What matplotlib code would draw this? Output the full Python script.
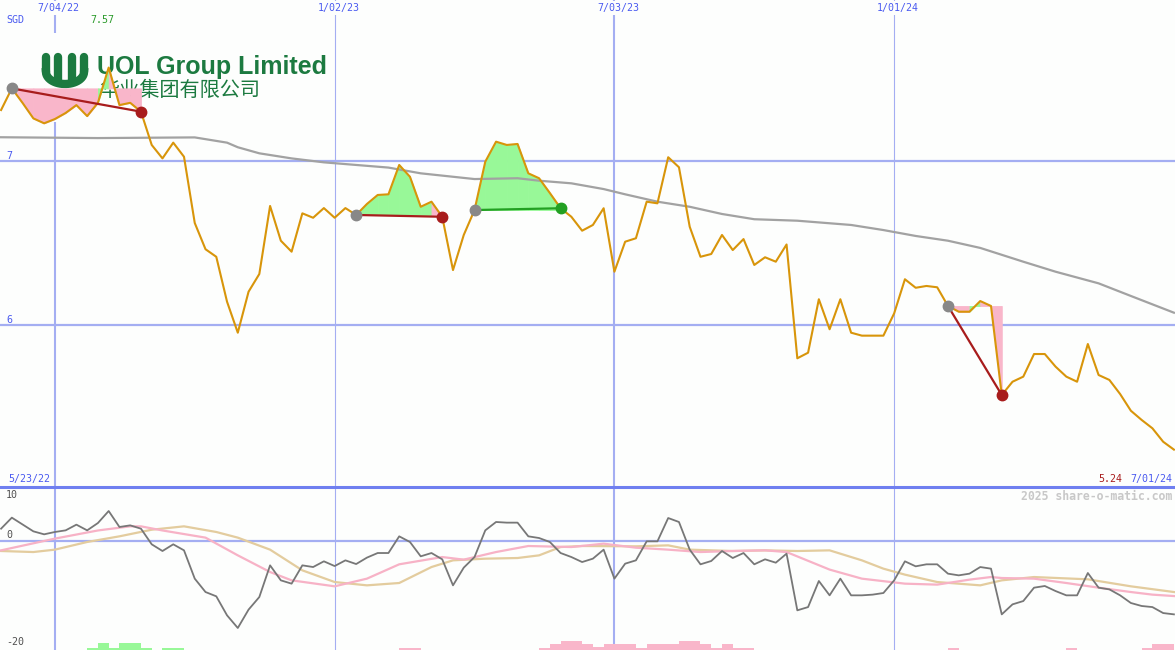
import matplotlib
matplotlib.use('Agg')
import matplotlib.pyplot as plt
import matplotlib.transforms as mtransforms
from matplotlib.lines import Line2D
from matplotlib.patches import Rectangle
import numpy as np
import pandas as pd

# weekly closes, SGD (first week 30 May 2022)
start_date = '2022-05-30'
price = [7.311, 7.443, 7.354, 7.260, 7.230, 7.256, 7.293, 7.341, 7.274, 7.355,
         7.570, 7.341, 7.355, 7.301, 7.098, 7.016, 7.112, 7.026, 6.622, 6.462,
         6.416, 6.142, 5.953, 6.203, 6.311, 6.726, 6.514, 6.447, 6.681, 6.654,
         6.713, 6.654, 6.713, 6.671, 6.738, 6.793, 6.797, 6.976, 6.904, 6.721,
         6.752, 6.660, 6.335, 6.549, 6.701, 6.996, 7.118, 7.098, 7.104, 6.925,
         6.895, 6.805, 6.712, 6.660, 6.575, 6.610, 6.712, 6.325, 6.508, 6.529,
         6.752, 6.742, 7.023, 6.962, 6.599, 6.416, 6.433, 6.549, 6.457, 6.524,
         6.366, 6.413, 6.386, 6.491, 5.797, 5.831, 6.157, 5.974, 6.157, 5.953,
         5.935, 5.935, 5.935, 6.071, 6.279, 6.227, 6.238, 6.230, 6.116, 6.081,
         6.081, 6.146, 6.116, 5.573, 5.654, 5.685, 5.823, 5.823, 5.746, 5.685,
         5.654, 5.884, 5.695, 5.665, 5.579, 5.477, 5.421, 5.370, 5.288, 5.240]

ma_weeks = [0, 9, 18, 21, 22, 24, 27, 30, 33, 36, 39, 42, 44, 48, 50, 53, 56, 58,
            61, 64, 67, 70, 74, 79, 82, 85, 88, 91, 95, 98, 102, 105, 109]
ma_vals = [7.145, 7.140, 7.144, 7.112, 7.084, 7.047, 7.016, 6.992, 6.976, 6.960,
           6.925, 6.904, 6.890, 6.895, 6.880, 6.864, 6.829, 6.797, 6.752, 6.721,
           6.677, 6.645, 6.636, 6.610, 6.579, 6.543, 6.514, 6.470, 6.386, 6.325,
           6.254, 6.177, 6.075]

# (start week, end week) of the marked moves
events = [(1, 13), (33, 41), (44, 52), (88, 93)]

momentum = [2.33, 4.36, 3.1, 1.84, 1.29, 1.72, 2.02, 3.07, 2.02, 3.37,
            5.58, 2.64, 2.94, 2.33, -0.55, -1.78, -0.55, -1.66, -6.87, -9.33,
            -10.12, -13.62, -15.95, -12.57, -10.25, -4.42, -7.18, -7.79, -4.42, -4.73,
            -3.68, -4.55, -3.5, -4.18, -3.0, -2.15, -2.15, 0.92, -0.12, -2.76,
            -2.15, -3.31, -8.1, -4.84, -2.89, 2.02, 3.56, 3.44, 3.44, 0.92,
            0.61, -0.12, -2.15, -2.89, -3.81, -3.19, -1.53, -6.87, -4.11, -3.5,
            0.0, 0.0, 4.29, 3.56, -1.53, -4.23, -3.62, -1.78, -3.07, -2.15,
            -4.23, -3.31, -3.93, -2.27, -12.7, -12.1, -7.3, -9.94, -6.87, -9.94,
            -9.94, -9.81, -9.51, -7.18, -3.68, -4.6, -4.23, -4.23, -5.95, -6.26,
            -5.95, -4.73, -5.03, -13.44, -11.6, -10.99, -8.53, -8.22, -9.15, -9.94,
            -9.94, -5.83, -8.53, -8.84, -9.94, -11.35, -11.9, -12.1, -13.2, -13.44]

pink_weeks = [0, 5, 9, 12, 13, 15, 19, 22, 25, 27, 31, 34, 37, 41, 43, 46, 49, 53, 56,
              59, 62, 65, 68, 71, 73, 77, 80, 84, 87, 90, 92, 93, 96, 99, 102, 105, 107, 109]
pink_vals = [-1.66, 0.5, 2.0, 2.76, 2.76, 2.0, 0.68, -2.58, -5.65, -7.18, -8.28, -6.87,
             -4.23, -2.89, -3.37, -1.97, -0.86, -1.05, -0.43, -1.17, -1.53, -1.97, -1.78,
             -1.66, -1.97, -5.2, -6.87, -7.79, -7.97, -7.05, -6.57, -6.75, -6.87, -7.67,
             -8.53, -9.33, -9.81, -10.07]

tan_weeks = [0, 3, 5, 8, 11, 14, 17, 20, 22, 25, 28, 31, 34, 37, 40, 42, 45, 48, 50, 52,
             54, 59, 62, 64, 68, 71, 74, 77, 80, 82, 84, 87, 91, 93, 96, 101, 105, 109]
tan_vals = [-1.78, -1.97, -1.53, -0.12, 0.92, 2.14, 2.76, 1.72, 0.68, -1.53, -5.34, -7.49,
            -8.1, -7.67, -4.73, -3.5, -3.19, -3.07, -2.58, -1.05, -0.86, -0.92, -0.74,
            -1.53, -1.78, -1.66, -1.78, -1.66, -3.5, -5.03, -6.13, -7.49, -8.1, -7.18,
            -6.57, -6.99, -8.28, -9.33]

green_bar_weeks = [8, 9, 10, 11, 12, 13, 15, 16]
green_bar_vals = [0.45, 1.2, 0.45, 1.2, 1.2, 0.45, 0.45, 0.45]
pink_bar_weeks = [37, 38, 50, 51, 52, 53, 54, 55, 56, 57, 58, 59, 60, 61, 62, 63, 64,
                  65, 66, 67, 68, 69, 88, 99, 106, 107, 108]
pink_bar_vals = [0.45, 0.45, 0.45, 1.1, 1.65, 1.65, 1.1, 0.5, 1.1, 1.1, 1.1, 0.45, 1.1,
                 1.1, 1.1, 1.65, 1.65, 1.1, 0.45, 1.1, 0.45, 0.45, 0.45, 0.45, 0.45, 1.1, 1.1]

grid_dates = ['2022-07-04', '2023-01-02', '2023-07-03', '2024-01-01']
grid_labels = ['7/04/22', '1/02/23', '7/03/23', '1/01/24']
price_ticks = [7, 6]
lower_ticks = [10, 0, -20]

W, H = 1175, 650
BG = '#fdfefd'
GRID = '#a4aef2'
DIVIDER = '#6f7ff0'
BLUE = '#4a5af0'
LOGO = '#1c7a40'
PRICE_C = '#d8950a'
PINK_FILL = '#f9b6ca'
GREEN_FILL = '#98f898'
DOWN = '#a81c1c'
UP = '#22a022'
MONO = 'DejaVu Sans Mono'


def fx(x):
    return x / W


def fy(y):
    return 1 - y / H


weeks = np.arange(len(price))
start = pd.Timestamp(start_date)
grid_weeks = [(pd.Timestamp(d) - start).days / 7 for d in grid_dates]

fig = plt.figure(figsize=(W / 100, H / 100), dpi=100, facecolor=BG)
ax_p = fig.add_axes([0, 163 / H, 1, 487 / H])
ax_m = fig.add_axes([0, 0, 1, 163 / H])
for ax in (ax_p, ax_m):
    ax.axis('off')
    for w, d in zip(grid_weeks, grid_dates):
        ax.axvline(w, color=GRID, lw=1.5 if d[5:7] == '07' else 0.8, zorder=0.5)

# price panel
for t in price_ticks:
    ax_p.axhline(t, color=GRID, lw=1.6, zorder=0.5)

# logo sits over the grid but under the data
ax_p.add_patch(Rectangle((fx(30), fy(122)), (333 - 30) / W, (122 - 33) / H,
                         transform=fig.transFigure, facecolor=BG, edgecolor='none', zorder=1))
icon = [([46, 46], [57, 72]), ([84, 84], [57, 72]), ([58, 58], [57, 80]), ([72, 72], [57, 80])]
for xs, ys in icon:
    ax_p.add_line(Line2D([fx(v) for v in xs], [fy(v) for v in ys], transform=fig.transFigure,
                         color=LOGO, lw=6, solid_capstyle='round', zorder=1.2))
theta = np.linspace(np.pi, 2 * np.pi, 30)
ax_p.add_line(Line2D(fx(65 + 19 * np.cos(theta)), fy(72 - 12 * np.sin(theta)),
                     transform=fig.transFigure, color=LOGO, lw=6, zorder=1.2))
ax_p.text(fx(97), fy(67), 'UOL Group Limited', transform=fig.transFigure, color=LOGO,
          fontsize=18, fontweight='bold', family='Liberation Sans', va='center', zorder=1.3)
ax_p.text(fx(99), fy(90), '华业集团有限公司', transform=fig.transFigure, color=LOGO,
          fontsize=14.5, family=['Noto Sans CJK SC', 'DejaVu Sans'], va='center', zorder=1.3)

for s, e in events:
    lvl = price[s]
    for k in range(s, e):
        c = GREEN_FILL if price[k + 1] > lvl else PINK_FILL
        ax_p.fill_between([k, k + 1], lvl, [price[k], price[k + 1]], facecolor=c,
                          edgecolor=c, lw=0.6, zorder=2)

ax_p.plot(ma_weeks, ma_vals, color='#a2a2a2', lw=1.6, zorder=2.5)
ax_p.plot(weeks, price, color=PRICE_C, lw=1.5, zorder=3)

for s, e in events:
    lc = DOWN if price[e] < price[s] else UP
    ax_p.plot([s, e], [price[s], price[e]], color=lc, lw=1.6, zorder=4)
    ax_p.plot(s, price[s], 'o', color='#888888', ms=7.5, zorder=5)
    ax_p.plot(e, price[e], 'o', color=lc, ms=7.5, zorder=5)

ax_p.set_xlim(-0.1, 109.1)
ax_p.set_ylim(5.012, 7.982)

# lower panel
ax_m.axhline(0, color=GRID, lw=1.6, zorder=0.5)
ax_m.bar(green_bar_weeks, green_bar_vals, width=1, align='edge', bottom=-20,
         color=GREEN_FILL, lw=0, zorder=1)
ax_m.bar(pink_bar_weeks, pink_bar_vals, width=1, align='edge', bottom=-20,
         color=PINK_FILL, lw=0, zorder=1)
ax_m.plot(tan_weeks, tan_vals, color='#e3cc9e', lw=1.6, zorder=2)
ax_m.plot(pink_weeks, pink_vals, color='#f7b2c6', lw=1.6, zorder=2.2)
ax_m.plot(weeks, momentum, color='#777777', lw=1.3, zorder=3)
ax_m.set_xlim(-0.1, 109.1)
ax_m.set_ylim(-20, 10)

fig.add_artist(Line2D([0, 1], [fy(487), fy(487)], transform=fig.transFigure,
                      color=DIVIDER, lw=2.2))

# labels
top = mtransforms.blended_transform_factory(ax_p.transData, fig.transFigure)
for w, lab in zip(grid_weeks, grid_labels):
    ax_p.text(w + 0.35, fy(8), lab, transform=top, ha='center', va='center',
              family=MONO, fontsize=7.2, color=BLUE, zorder=6,
              bbox=dict(facecolor=BG, edgecolor='none', pad=1.5))
imax = int(np.argmax(price))
ax_p.text(imax - 0.6, fy(20), f'{max(price):.2f}', transform=top, ha='center', va='center',
          family=MONO, fontsize=7.2, color='#2a9a2a')

fig.text(fx(6), fy(20), 'SGD', family=MONO, fontsize=7.2, color=BLUE, va='center')
for t in price_ticks:
    ypix = 161 + (7 - t) * 164 - 5
    fig.text(fx(6), fy(ypix), str(t), family=MONO, fontsize=7.2, color=BLUE, va='center')
fig.text(fx(8), fy(479), '5/23/22', family=MONO, fontsize=7.2, color=BLUE, va='center')
fig.text(fx(1172), fy(479), '7/01/24', family=MONO, fontsize=7.2, color=BLUE,
         va='center', ha='right')
fig.text(fx(1122), fy(479), f'{price[-1]:.2f}', family=MONO, fontsize=7.2, color=DOWN,
         va='center', ha='right')
fig.text(fx(1172), fy(496), '2025 share-o-matic.com', family=MONO, fontsize=8.3,
         fontweight='bold', color='#c8c8c8', va='center', ha='right')
for t, ypix in zip(lower_ticks, [495, 535, 642]):
    fig.text(fx(6), fy(ypix), str(t), family=MONO, fontsize=7.2, color='#505050', va='center')

fig.savefig('out.png', dpi=100, facecolor=BG)
